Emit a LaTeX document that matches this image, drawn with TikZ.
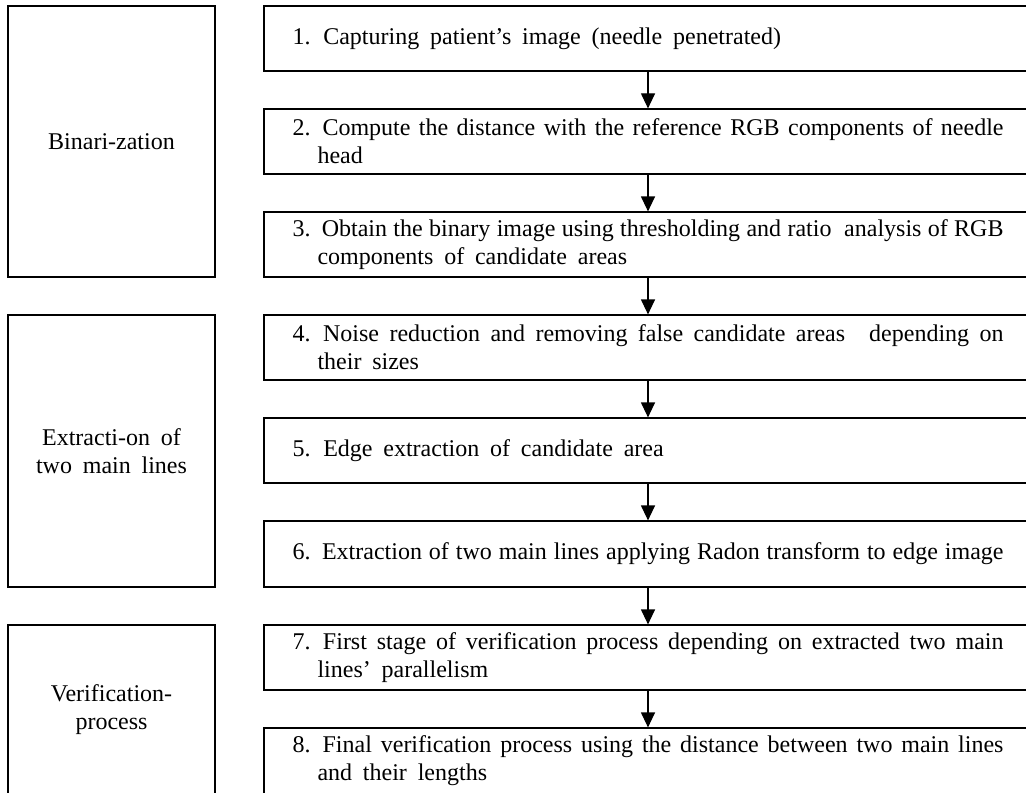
\documentclass[tikz,border=0pt]{standalone}
\usepackage{fontspec}
\setmainfont{Liberation Serif}[WordSpace={1.8,1,2.5}]
\usepackage{tikz}
\usetikzlibrary{arrows.meta}

\begin{document}
\begin{tikzpicture}[
	x=0.5pt,
	y=-0.5pt,
	phase/.style={
		draw,
		line width=0.6pt,
		minimum width=103.5pt,
		align=center,
		font=\fontsize{12}{14}\selectfont
	},
	stage/.style={
		draw,
		line width=0.6pt,
		minimum width=384pt,
		minimum height=32.5pt,
		text width=355.5pt,
		inner xsep=14.25pt,
		align=justify,
		font=\fontsize{12}{14}\selectfont,
		execute at begin node={\hangindent=12.5pt}
	},
	flow/.style={
		line width=0.6pt,
		-{Triangle[length=7.5pt,width=7pt]}
	}
	]
	\useasboundingbox (0,0) rectangle (1026,792);
	\clip (0,0) rectangle (1026,792);
	
	% phases
	\node[phase, minimum height=135.5pt] (p1) at (111.5,141.5) {Binari-zation};
	\node[phase, minimum height=136pt] (p2) at (111.5,451) {Extracti-on of\\two main lines};
	\node[phase, minimum height=85pt] (p3) at (111.5,710) {Verification-\\process};
	
	% stages
	\node[stage] (s1) at (648,38.5) {1. Capturing patient's image (needle penetrated)};
	\node[stage] (s2) at (648,141.5) {2. Compute the distance with the reference RGB components of needle\linebreak head};
	\node[stage] (s3) at (648,244.5) {3. Obtain the binary image using thresholding and ratio\ \ analysis of RGB\linebreak components of candidate areas};
	\node[stage] (s4) at (648,347.5) {4. Noise reduction and removing false candidate areas\quad depending on\linebreak their sizes};
	\node[stage] (s5) at (648,450.5) {5. Edge extraction of candidate area};
	\node[stage, minimum height=33pt] (s6) at (648,554) {\makebox[\linewidth][s]{6. Extraction of two main lines applying Radon transform to edge image}};
	\node[stage] (s7) at (648,657.5) {7. First stage of verification process depending on extracted two main\linebreak lines' parallelism};
	\node[stage, minimum height=33pt] (s8) at (648,761) {8. Final verification process using the distance between two main lines\linebreak and their lengths};
	
	\draw[flow] (s1) -- (s2);
	\draw[flow] (s2) -- (s3);
	\draw[flow] (s3) -- (s4);
	\draw[flow] (s4) -- (s5);
	\draw[flow] (s5) -- (s6);
	\draw[flow] (s6) -- (s7);
	\draw[flow] (s7) -- (s8);
\end{tikzpicture}
\end{document}
